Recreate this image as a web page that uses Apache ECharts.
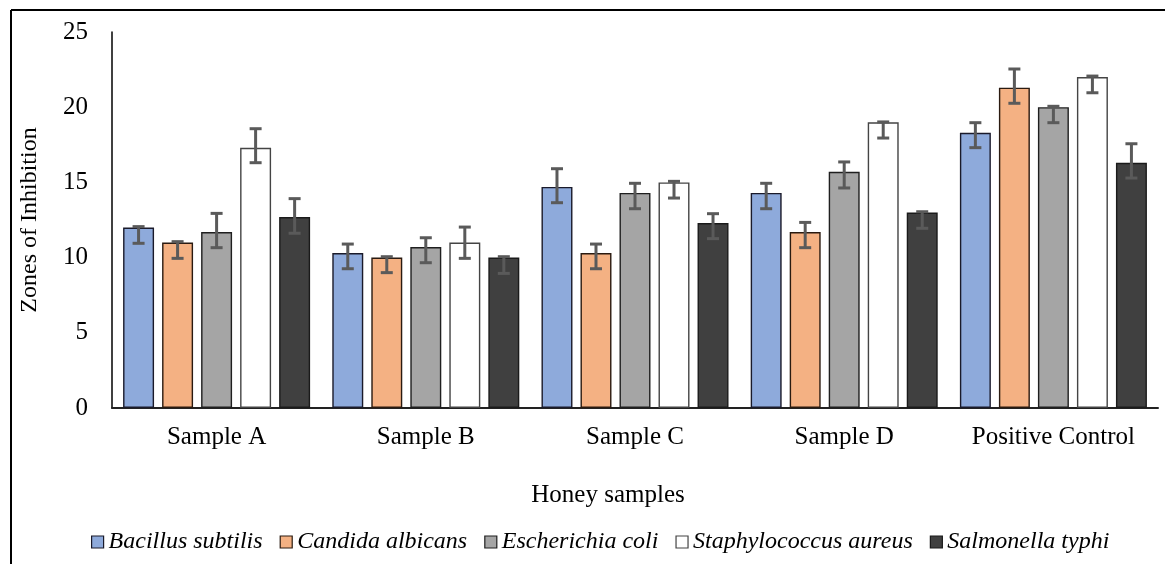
<!DOCTYPE html>
<html>
<head>
<meta charset="utf-8">
<script src="https://cdn.jsdelivr.net/npm/echarts@6/dist/echarts.min.js"></script>
<style>
html,body{margin:0;padding:0;background:#fff;}
#chart{width:1165px;height:564px;}
</style>
</head>
<body>
<div id="chart"></div>
<script>
var categories = ['Sample A', 'Sample B', 'Sample C', 'Sample D', 'Positive Control'];
var seriesNames = ['Bacillus subtilis', 'Candida albicans', 'Escherichia coli', 'Staphylococcus aureus', 'Salmonella typhi'];
var yTicks = [0, 5, 10, 15, 20, 25];

var bacillus = [12.0, 10.3, 14.7, 14.3, 18.3];
var candida = [11.0, 10.0, 10.3, 11.7, 21.3];
var ecoli = [11.7, 10.7, 14.3, 15.7, 20.0];
var staph = [17.3, 11.0, 15.0, 19.0, 22.0];
var salmonella = [12.7, 10.0, 12.3, 13.0, 16.3];

var bacillusLow = [10.95, 9.26, 13.65, 13.25, 17.31];
var bacillusHigh = [12.06, 10.9, 15.91, 14.94, 18.97];
var candidaLow = [9.95, 9.0, 9.26, 10.66, 20.26];
var candidaHigh = [11.06, 10.06, 10.9, 12.34, 22.54];
var ecoliLow = [10.66, 9.66, 13.25, 14.63, 18.97];
var ecoliHigh = [12.94, 11.32, 14.94, 16.36, 20.06];
var staphLow = [16.31, 9.95, 13.96, 17.95, 20.96];
var staphHigh = [18.57, 12.03, 15.07, 19.02, 22.07];
var salmonellaLow = [11.62, 8.95, 11.26, 11.95, 15.29];
var salmonellaHigh = [13.92, 10.06, 12.92, 13.05, 17.57];

var values = [bacillus, candida, ecoli, staph, salmonella];
var lows = [bacillusLow, candidaLow, ecoliLow, staphLow, salmonellaLow];
var highs = [bacillusHigh, candidaHigh, ecoliHigh, staphHigh, salmonellaHigh];
var colors = ['#8eaadb', '#f4b183', '#a5a5a5', '#ffffff', '#404040'];
var borders = ['#1a1a2a', '#2a1a10', '#1f1f1f', '#444444', '#1a1a1a'];

var FONT = "'Liberation Serif', 'Times New Roman', serif";
var BAR_FRAC = 0.148;
var GAP_FRAC = 0.26;

var series = [];
values.forEach(function (vals, i) {
  series.push({
    name: seriesNames[i],
    type: 'bar',
    data: vals,
    barWidth: (BAR_FRAC * 100) + '%',
    barGap: (GAP_FRAC * 100) + '%',
    itemStyle: { color: colors[i], borderColor: borders[i], borderWidth: 1.4 },
    z: 2
  });
});
values.forEach(function (vals, i) {
  var d = categories.map(function (c, k) { return [k, lows[i][k], highs[i][k]]; });
  series.push({
    name: 'err' + i,
    type: 'custom',
    data: d,
    encode: { x: 0, y: [1, 2] },
    z: 5,
    silent: true,
    renderItem: function (params, api) {
      var catW = api.size([1, 0])[0];
      var barW = catW * BAR_FRAC;
      var step = barW * (1 + GAP_FRAC);
      var off = (i - 2) * step;
      var lo = api.coord([api.value(0), api.value(1)]);
      var hi = api.coord([api.value(0), api.value(2)]);
      var x = lo[0] + off;
      var cap = 6;
      var st = { stroke: '#5a5a5a', lineWidth: 3 };
      return {
        type: 'group',
        children: [
          { type: 'line', shape: { x1: x, y1: lo[1], x2: x, y2: hi[1] }, style: st },
          { type: 'line', shape: { x1: x - cap, y1: lo[1], x2: x + cap, y2: lo[1] }, style: st },
          { type: 'line', shape: { x1: x - cap, y1: hi[1], x2: x + cap, y2: hi[1] }, style: st }
        ]
      };
    }
  });
});

var chart = echarts.init(document.getElementById('chart'));
chart.setOption({
  animation: false,
  backgroundColor: '#ffffff',
  grid: { left: 112, right: 7, top: 32, bottom: 156, containLabel: false },
  legend: {
    data: seriesNames,
    top: 525,
    left: 86,
    icon: 'rect',
    itemWidth: 12,
    itemHeight: 12,
    itemGap: 17,
    itemStyle: { borderWidth: 1.2 },
    textStyle: { fontFamily: FONT, fontStyle: 'italic', fontSize: 24, color: '#000' }
  },
  xAxis: {
    type: 'category',
    data: categories,
    axisTick: { show: false },
    axisLine: { lineStyle: { color: '#222', width: 2 } },
    axisLabel: { interval: 0, fontFamily: FONT, fontSize: 25, color: '#000', margin: 17 }
  },
  yAxis: {
    type: 'value',
    min: yTicks[0],
    max: yTicks[yTicks.length - 1],
    interval: 5,
    name: 'Zones of Inhibition',
    nameLocation: 'middle',
    nameGap: 70,
    nameTextStyle: { fontFamily: FONT, fontSize: 24, color: '#000' },
    axisLine: { show: true, lineStyle: { color: '#000', width: 1.5 } },
    axisTick: { show: false },
    splitLine: { show: false },
    axisLabel: { fontFamily: FONT, fontSize: 25, color: '#000', margin: 24 }
  },
  graphic: [
    { type: 'line', shape: { x1: 11, y1: 10, x2: 1165, y2: 10 }, style: { stroke: '#000', lineWidth: 2 } },
    { type: 'line', shape: { x1: 11, y1: 10, x2: 11, y2: 564 }, style: { stroke: '#000', lineWidth: 2 } },
    { type: 'text', x: 608, y: 495, style: { text: 'Honey samples', fontFamily: FONT, fontSize: 25, fill: '#000', textAlign: 'center', textVerticalAlign: 'middle' } }
  ],
  series: series
});
</script>
</body>
</html>
